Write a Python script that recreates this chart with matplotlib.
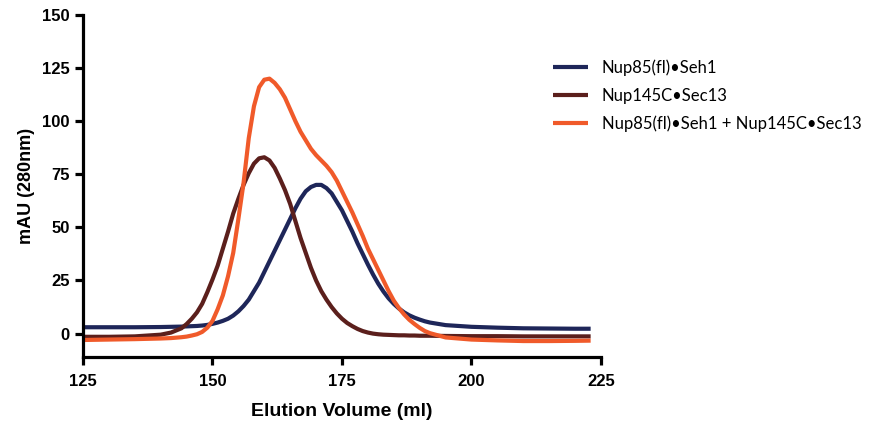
import matplotlib
matplotlib.use("Agg")
import matplotlib.pyplot as plt

# elution volume (ml) and absorbance (mAU at 280nm)
volume = [125, 130, 135, 140, 142, 144, 145, 146, 147, 148, 149, 150, 151, 152,
          153, 154, 155, 156, 157, 158, 159, 160, 161, 162, 163, 164, 165, 166,
          167, 168, 169, 170, 171, 172, 173, 174, 175, 176, 177, 178, 179, 180,
          181, 182, 183, 184, 185, 186, 187, 188, 189, 190, 191, 192, 195, 200,
          205, 210, 215, 220, 223]

nup85_seh1 = [3, 3, 3, 3.1, 3.2, 3.3, 3.4, 3.5, 3.6, 3.8, 4.1, 4.6, 5.2, 6,
              7, 8.5, 10.5, 13, 16, 20, 24, 29, 34, 39, 44, 49, 54, 59,
              63.5, 67, 69, 70, 70, 68.5, 66, 62, 58, 53, 48, 42.5, 37.5, 32.5,
              27.8, 23.5, 19.8, 16.6, 14, 11.8, 10, 8.6, 7.5, 6.6, 5.8, 5.2, 4, 3.2,
              2.8, 2.5, 2.4, 2.3, 2.3]

nup145c_sec13 = [-1.5, -1.5, -1.3, -0.5, 0.5, 2.5, 4.5, 7, 10, 14, 19.5, 25.5, 32, 40,
                 48, 56.5, 63.5, 70, 75.5, 80, 82.5, 83, 81.5, 78, 73, 67.5, 61, 53,
                 45, 38, 31, 25, 20, 16, 12.5, 9.5, 7, 5, 3.5, 2.2, 1.2, 0.5,
                 0, -0.3, -0.5, -0.6, -0.7, -0.8, -0.8, -0.9, -0.9, -1, -1, -1, -1.1, -1.2,
                 -1.2, -1.3, -1.3, -1.3, -1.3]

combined = [-3, -2.8, -2.6, -2.3, -2.1, -1.7, -1.4, -0.9, -0.3, 0.8, 2.8, 6, 11.5, 18,
            27, 38, 54, 71, 92, 107, 116, 119.5, 120, 118, 115, 111, 105.5, 100,
            95, 91, 87, 84, 81.5, 79, 76, 72, 67, 62, 57, 51.5, 46, 40,
            35, 30, 25, 20, 15.5, 12, 9, 6.5, 4.5, 2.7, 1.2, 0.2, -1.8, -2.8,
            -3.2, -3.5, -3.5, -3.4, -3.3]

labels = ["Nup85(fl)\u2022Seh1", "Nup145C\u2022Sec13",
          "Nup85(fl)\u2022Seh1 + Nup145C\u2022Sec13"]
colors = ["#1e2659", "#5b1f1c", "#f05a2a"]

plt.rcParams['font.family'] = ['Liberation Sans', 'DejaVu Sans']

fig = plt.figure(figsize=(8.7, 4.26), dpi=100)
ax = fig.add_axes([0.0954, 0.162, 0.5954, 0.803])

for y, lab, c in zip([nup85_seh1, nup145c_sec13, combined], labels, colors):
    ax.plot(volume, y, color=c, lw=3, label=lab, solid_joinstyle='round',
            solid_capstyle='butt')

ax.set_xlim(125, 225)
ax.set_ylim(-11, 150)
ax.set_xticks([125, 150, 175, 200, 225])
ax.set_yticks([0, 25, 50, 75, 100, 125, 150])

for side in ['top', 'right']:
    ax.spines[side].set_visible(False)
for side in ['left', 'bottom']:
    ax.spines[side].set_linewidth(2.3)
ax.tick_params(width=2.3, length=6, direction='out', labelsize=12)
ax.tick_params(axis='x', pad=6)
for t in ax.get_xticklabels() + ax.get_yticklabels():
    t.set_fontweight('bold')

ax.set_xlabel("Elution Volume (ml)", fontsize=14, fontweight='bold', labelpad=10)
ax.set_ylabel("mAU (280nm)", fontsize=13, fontweight='bold', labelpad=5)

leg = fig.legend(loc='upper left', bbox_to_anchor=(0.636, 0.86), frameon=False,
                 prop={'family': ['Lato', 'DejaVu Sans'], 'size': 12},
                 handlelength=2.1, handletextpad=0.8, labelspacing=0.7,
                 borderpad=0, borderaxespad=0)
for line in leg.get_lines():
    line.set_linewidth(3)

fig.savefig("out.png", dpi=100)
